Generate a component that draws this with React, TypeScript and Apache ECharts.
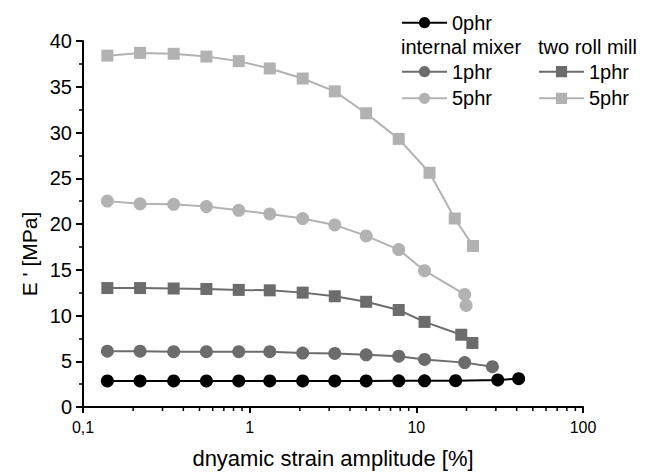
import React, { useEffect, useRef } from "react";
import * as echarts from "echarts";

// Strain amplitude [%] and storage modulus E' [MPa] per compound
const strain0 = [0.14, 0.22, 0.35, 0.55, 0.86, 1.32, 2.08, 3.24, 5.0, 7.84, 11.2, 17.2, 30.8, 41.1];
const modulus0 = [2.85, 2.85, 2.85, 2.85, 2.85, 2.85, 2.85, 2.85, 2.85, 2.86, 2.86, 2.88, 2.96, 3.1];

const strainIM1 = [0.14, 0.22, 0.35, 0.55, 0.86, 1.32, 2.08, 3.24, 5.0, 7.84, 11.2, 19.5, 28.6];
const modulusIM1 = [6.1, 6.1, 6.05, 6.05, 6.05, 6.05, 5.9, 5.85, 5.7, 5.55, 5.2, 4.85, 4.4];

const strainIM5 = [0.14, 0.22, 0.35, 0.55, 0.86, 1.32, 2.08, 3.24, 5.0, 7.84, 11.2, 19.5, 19.9];
const modulusIM5 = [22.5, 22.2, 22.15, 21.9, 21.5, 21.1, 20.6, 19.9, 18.7, 17.2, 14.9, 12.3, 11.1];

const strainTR1 = [0.14, 0.22, 0.35, 0.55, 0.86, 1.32, 2.08, 3.24, 5.0, 7.84, 11.2, 18.6, 21.7];
const modulusTR1 = [13.0, 13.0, 12.95, 12.9, 12.8, 12.75, 12.5, 12.1, 11.5, 10.6, 9.3, 7.9, 7.0];

const strainTR5 = [0.14, 0.22, 0.35, 0.55, 0.86, 1.32, 2.08, 3.24, 5.0, 7.84, 12.0, 17.0, 21.9];
const modulusTR5 = [38.4, 38.7, 38.6, 38.3, 37.8, 37.0, 35.9, 34.5, 32.1, 29.3, 25.6, 20.6, 17.6];

// Minor tick positions of the logarithmic strain axis
const minorTicks = [0.2, 0.3, 0.4, 0.5, 0.6, 0.7, 0.8, 0.9, 2, 3, 4, 5, 6, 7, 8, 9, 20, 30, 40, 50, 60, 70, 80, 90];

const FONT = "'Liberation Sans', Arial, Helvetica, sans-serif";
const BLACK = "#000000";
const DARK = "#6c6c6c";
const LIGHT = "#b2b2b2";

const pairs = (xs: number[], ys: number[]) => xs.map((x, i) => [x, ys[i]]);

const lineSeries = (name: string, xs: number[], ys: number[], color: string, symbol: string, size: number) => ({
  type: "line",
  name,
  data: pairs(xs, ys),
  symbol,
  symbolSize: size,
  showSymbol: true,
  lineStyle: { color, width: 2 },
  itemStyle: { color },
  emphasis: { disabled: true },
});

export default function App() {
  const ref = useRef<HTMLDivElement>(null);

  useEffect(() => {
    if (!ref.current) return;
    const chart = echarts.init(ref.current, undefined, { renderer: "svg" });
    const legendText = { fontFamily: FONT, fontSize: 20, color: BLACK };
    const shortName = (n: string) => n.split(" ").pop() as string;
    const legendCommon = {
      padding: 0,
      itemWidth: 45,
      itemHeight: 14,
      textStyle: legendText,
      selectedMode: false,
    };

    chart.setOption({
      animation: false,
      backgroundColor: "#ffffff",
      grid: { left: 83, right: 69, top: 41, bottom: 63, containLabel: false },
      xAxis: {
        type: "log",
        logBase: 10,
        min: 0.1,
        max: 100,
        name: "dnyamic strain amplitude [%]",
        nameLocation: "middle",
        nameGap: 40,
        nameTextStyle: { fontFamily: FONT, fontSize: 22, color: BLACK },
        axisLine: { show: true, lineStyle: { color: BLACK, width: 2 } },
        axisTick: { show: true, inside: false, length: 6, lineStyle: { color: BLACK, width: 2 } },
        axisLabel: {
          fontFamily: FONT,
          fontSize: 16,
          color: BLACK,
          margin: 12,
          formatter: (v: number) => String(v).replace(".", ","),
        },
        splitLine: { show: false },
      },
      yAxis: {
        type: "value",
        min: 0,
        max: 40,
        interval: 5,
        axisLine: { show: true, lineStyle: { color: BLACK, width: 2 } },
        axisTick: { show: true, inside: false, length: 7, lineStyle: { color: BLACK, width: 2 } },
        minorTick: { show: true, splitNumber: 2, length: 4, lineStyle: { color: BLACK, width: 1.5 } },
        axisLabel: { fontFamily: FONT, fontSize: 20, color: BLACK, margin: 11 },
        splitLine: { show: false },
      },
      legend: [
        { ...legendCommon, data: ["0phr"], left: 401, top: 12.7 },
        {
          ...legendCommon,
          data: ["internal mixer 1phr", "internal mixer 5phr"],
          orient: "vertical",
          left: 401,
          top: 61.7,
          itemGap: 6.6,
          formatter: shortName,
        },
        {
          ...legendCommon,
          data: ["two roll mill 1phr", "two roll mill 5phr"],
          orient: "vertical",
          left: 538,
          top: 61.7,
          itemGap: 6.6,
          formatter: shortName,
        },
      ],
      graphic: [
        {
          type: "text",
          left: 401,
          top: 36.5,
          style: { text: "internal mixer", fontFamily: FONT, fontSize: 20, fill: BLACK },
        },
        {
          type: "text",
          left: 538,
          top: 36.5,
          style: { text: "two roll mill", fontFamily: FONT, fontSize: 20, fill: BLACK },
        },
        {
          type: "text",
          x: 29,
          y: 254,
          rotation: Math.PI / 2,
          style: {
            text: "E ' [MPa]",
            fontFamily: FONT,
            fontSize: 21,
            fill: BLACK,
            align: "center",
            verticalAlign: "middle",
          },
        },
      ],
      series: [
        lineSeries("two roll mill 5phr", strainTR5, modulusTR5, LIGHT, "rect", 12),
        lineSeries("internal mixer 5phr", strainIM5, modulusIM5, LIGHT, "circle", 13),
        lineSeries("two roll mill 1phr", strainTR1, modulusTR1, DARK, "rect", 12),
        lineSeries("internal mixer 1phr", strainIM1, modulusIM1, DARK, "circle", 13),
        lineSeries("0phr", strain0, modulus0, BLACK, "circle", 13),
        {
          type: "custom",
          name: "minor ticks",
          silent: true,
          clip: false,
          data: minorTicks.map((v) => [v, 0]),
          encode: { x: 0, y: 1 },
          renderItem: (_params: any, api: any) => {
            const p = api.coord([api.value(0), 0]);
            return {
              type: "line",
              shape: { x1: p[0], y1: p[1], x2: p[0], y2: p[1] + 4 },
              style: { stroke: BLACK, lineWidth: 1.5 },
            };
          },
        },
      ],
    });

    return () => chart.dispose();
  }, []);

  return (
    <div
      ref={ref}
      style={{ position: "fixed", left: 0, top: 0, width: 652, height: 474, background: "#fff" }}
    />
  );
}
